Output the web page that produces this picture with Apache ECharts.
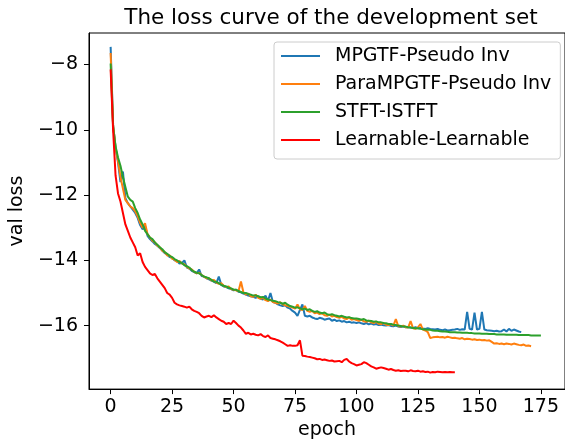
<!DOCTYPE html>
<html>
<head>
    <meta charset="UTF-8">
    <title>The loss curve of the development set</title>
    <script src="https://cdn.jsdelivr.net/npm/echarts@6/dist/echarts.min.js"></script>
    <style type="text/css">
        body { margin: 0; background: #fff; }
        #main { width: 565px; height: 445px; }
    </style>
</head>
<body>
<div id="main"></div>
<script type="text/javascript">
    // series names, in legend order
    var names = ['MPGTF-Pseudo Inv', 'ParaMPGTF-Pseudo Inv', 'STFT-ISTFT', 'Learnable-Learnable'];
    var xTicks = [0, 25, 50, 75, 100, 125, 150, 175];
    var yTicks = [-16, -14, -12, -10, -8];

    // val loss per epoch (index = epoch)
    var mpgtf = [
        -7.46, -9.85, -10.55, -11.00, -11.60, -11.28, -12.10, -12.25, -12.35, -12.45,
        -12.55, -12.70, -12.92, -13.05, -12.95, -13.25, -13.35, -13.42, -13.50, -13.55,
        -13.62, -13.70, -13.78, -13.82, -13.90, -13.92, -14.00, -14.02, -14.10, -14.08,
        -14.00, -14.22, -14.25, -14.32, -14.36, -14.40, -14.28, -14.48, -14.50, -14.55,
        -14.58, -14.62, -14.65, -14.70, -14.50, -14.75, -14.80, -14.82, -14.86, -14.88,
        -14.92, -14.90, -14.96, -14.98, -15.02, -15.05, -15.08, -15.10, -15.12, -15.15,
        -15.10, -15.18, -15.20, -15.08, -15.24, -15.00, -15.28, -15.30, -15.35, -15.38,
        -15.40, -15.38, -15.45, -15.48, -15.55, -15.60, -15.70, -15.52, -15.35, -15.70,
        -15.72, -15.70, -15.75, -15.78, -15.80, -15.76, -15.78, -15.82, -15.80, -15.78,
        -15.85, -15.82, -15.86, -15.84, -15.88, -15.86, -15.90, -15.88, -15.91, -15.90,
        -15.92, -15.90, -15.93, -15.95, -15.92, -15.96, -15.94, -15.97, -15.95, -15.98,
        -15.97, -15.99, -16.00, -15.98, -16.01, -16.02, -16.00, -16.03, -16.04, -16.02,
        -16.05, -16.04, -16.06, -16.07, -16.05, -16.08, -16.07, -16.09, -16.10, -16.08,
        -16.10, -16.11, -16.12, -16.10, -16.13, -16.14, -16.12, -16.15, -16.14, -16.13,
        -16.12, -16.10, -16.13, -16.11, -16.12, -15.58, -16.10, -16.12, -15.60, -16.12,
        -16.10, -15.58, -16.12, -16.14, -16.15, -16.16, -16.17, -16.16, -16.18, -16.17,
        -16.12, -16.18, -16.10, -16.16, -16.12, -16.15, -16.18, -16.20
    ];
    var paraMpgtf = [
        -7.65, -9.85, -10.55, -10.95, -11.45, -11.80, -12.15, -12.25, -12.35, -12.40,
        -12.50, -12.65, -12.85, -13.00, -12.86, -13.20, -13.30, -13.40, -13.45, -13.55,
        -13.60, -13.70, -13.75, -13.85, -13.85, -13.95, -13.98, -14.05, -14.02, -14.10,
        -14.12, -14.20, -14.25, -14.28, -14.35, -14.40, -14.38, -14.45, -14.50, -14.55,
        -14.55, -14.62, -14.60, -14.68, -14.72, -14.70, -14.78, -14.82, -14.80, -14.88,
        -14.90, -14.92, -14.95, -14.65, -14.98, -15.05, -15.02, -15.10, -15.12, -15.05,
        -15.15, -15.18, -15.15, -15.22, -15.25, -15.20, -15.28, -15.30, -15.32, -15.28,
        -15.35, -15.38, -15.40, -15.42, -15.45, -15.48, -15.35, -15.50, -15.52, -15.40,
        -15.55, -15.58, -15.55, -15.62, -15.60, -15.65, -15.62, -15.68, -15.70, -15.66,
        -15.72, -15.70, -15.74, -15.76, -15.73, -15.78, -15.80, -15.75, -15.82, -15.80,
        -15.83, -15.85, -15.82, -15.87, -15.88, -15.85, -15.90, -15.92, -15.88, -15.94,
        -15.95, -15.92, -15.97, -15.98, -15.95, -16.00, -15.80, -16.02, -16.03, -16.00,
        -16.05, -16.06, -15.86, -16.08, -16.10, -16.05, -15.95, -16.12, -16.15, -16.20,
        -16.38, -16.36, -16.35, -16.34, -16.36, -16.35, -16.37, -16.34, -16.36, -16.38,
        -16.37, -16.39, -16.40, -16.38, -16.42, -16.40, -16.41, -16.43, -16.42, -16.44,
        -16.43, -16.45, -16.44, -16.46, -16.45, -16.50, -16.55, -16.54, -16.56, -16.55,
        -16.57, -16.55, -16.56, -16.58, -16.55, -16.57, -16.59, -16.60, -16.58, -16.62,
        -16.61, -16.63
    ];
    var stft = [
        -7.97, -9.90, -10.50, -10.85, -11.10, -11.45, -11.75, -12.05, -12.15, -12.20,
        -12.40, -12.55, -12.75, -12.90, -13.10, -13.20, -13.30, -13.35, -13.45, -13.52,
        -13.60, -13.66, -13.75, -13.80, -13.86, -13.90, -13.96, -14.00, -14.05, -14.08,
        -14.15, -14.18, -14.22, -14.30, -14.35, -14.38, -14.40, -14.45, -14.50, -14.52,
        -14.55, -14.60, -14.65, -14.66, -14.70, -14.75, -14.78, -14.80, -14.84, -14.86,
        -14.90, -14.90, -14.94, -14.97, -15.00, -15.00, -15.03, -15.05, -15.08, -15.08,
        -15.10, -15.13, -15.12, -15.17, -15.20, -15.22, -15.24, -15.25, -15.28, -15.30,
        -15.33, -15.30, -15.36, -15.40, -15.42, -15.45, -15.44, -15.47, -15.50, -15.48,
        -15.52, -15.50, -15.55, -15.58, -15.56, -15.60, -15.62, -15.60, -15.65, -15.67,
        -15.65, -15.68, -15.70, -15.72, -15.70, -15.73, -15.75, -15.74, -15.77, -15.78,
        -15.78, -15.80, -15.82, -15.80, -15.84, -15.85, -15.86, -15.88, -15.87, -15.90,
        -15.90, -15.92, -15.93, -15.95, -15.95, -15.97, -15.98, -16.00, -16.01, -16.03,
        -16.03, -16.05, -16.06, -16.07, -16.08, -16.08, -16.10, -16.11, -16.12, -16.13,
        -16.13, -16.15, -16.16, -16.16, -16.17, -16.18, -16.18, -16.19, -16.20, -16.20,
        -16.20, -16.21, -16.21, -16.22, -16.22, -16.22, -16.23, -16.23, -16.24, -16.24,
        -16.24, -16.25, -16.25, -16.25, -16.26, -16.26, -16.26, -16.27, -16.27, -16.27,
        -16.27, -16.28, -16.28, -16.28, -16.28, -16.28, -16.29, -16.29, -16.29, -16.29,
        -16.29, -16.30, -16.30, -16.30, -16.30, -16.30
    ];
    var learnable = [
        -8.15, -10.00, -11.40, -11.95, -12.20, -12.55, -12.90, -13.10, -13.30, -13.45,
        -13.60, -13.85, -13.78, -14.05, -14.20, -14.30, -14.40, -14.45, -14.42, -14.55,
        -14.65, -14.75, -14.85, -15.00, -15.05, -15.15, -15.30, -15.35, -15.38, -15.40,
        -15.42, -15.45, -15.42, -15.50, -15.55, -15.58, -15.62, -15.70, -15.75, -15.72,
        -15.70, -15.74, -15.68, -15.75, -15.80, -15.85, -15.88, -15.95, -15.92, -15.95,
        -15.85, -15.92, -16.00, -16.06, -16.15, -16.25, -16.22, -16.27, -16.25, -16.28,
        -16.30, -16.26, -16.32, -16.35, -16.30, -16.38, -16.40, -16.42, -16.45, -16.48,
        -16.52, -16.57, -16.62, -16.60, -16.62, -16.62, -16.60, -16.45, -16.92, -16.93,
        -16.95, -16.96, -16.98, -17.00, -17.03, -17.02, -17.05, -17.04, -17.06, -17.08,
        -17.07, -17.10, -17.09, -17.08, -17.12, -17.05, -17.02, -17.10, -17.15, -17.18,
        -17.22, -17.20, -17.18, -17.12, -17.15, -17.20, -17.25, -17.28, -17.32, -17.30,
        -17.28, -17.30, -17.32, -17.35, -17.33, -17.36, -17.38, -17.37, -17.39, -17.38,
        -17.38, -17.40, -17.37, -17.39, -17.40, -17.38, -17.41, -17.40, -17.42, -17.41,
        -17.44, -17.42, -17.43, -17.41, -17.42, -17.43, -17.42, -17.43, -17.42, -17.43,
        -17.43
    ];
    var colors = ['#1f77b4', '#ff7f0e', '#2ca02c', '#ff0000'];

    function toPoints(arr) {
        return arr.map(function (v, i) { return [i, v]; });
    }
    function minusFmt(v) {
        return v < 0 ? '\u2212' + Math.abs(v) : String(v);
    }

    var font = 'DejaVu Sans';
    var myChart = echarts.init(document.getElementById('main'));
    var allData = [mpgtf, paraMpgtf, stft, learnable];
    var series = [];
    for (var i = 0; i < names.length; i++) {
        series.push({
            name: names[i],
            type: 'line',
            data: toPoints(allData[i]),
            showSymbol: false,
            symbol: 'none',
            lineStyle: { color: colors[i], width: 2 },
            itemStyle: { color: colors[i] },
            z: 2 + i
        });
    }

    var option = {
        animation: false,
        backgroundColor: '#fff',
        title: {
            text: 'The loss curve of the development set',
            left: 326,
            textAlign: 'center',
            top: 2,
            textStyle: { fontFamily: font, fontSize: 21.5, fontWeight: 'normal', color: '#000' }
        },
        legend: {
            data: names,
            orient: 'vertical',
            left: 274,
            top: 42,
            padding: [4, 9, 9, 7],
            itemGap: 8,
            itemWidth: 39,
            itemHeight: 2,
            icon: 'rect',
            borderColor: '#cccccc',
            borderWidth: 1,
            borderRadius: 3,
            backgroundColor: 'rgba(255,255,255,0.8)',
            textStyle: { fontFamily: font, fontSize: 19, color: '#000', lineHeight: 20, padding: [0, 0, 0, 10] }
        },
        grid: {
            left: 86,
            top: 33,
            width: 480,
            height: 357,
            show: true,
            borderColor: '#000',
            borderWidth: 1
        },
        xAxis: {
            type: 'value',
            min: -8.8,
            max: 184.8,
            name: 'epoch',
            nameLocation: 'middle',
            nameGap: 28,
            nameTextStyle: { fontFamily: font, fontSize: 19, color: '#000' },
            splitLine: { show: false },
            axisLine: { show: true, onZero: false, lineStyle: { color: '#000', width: 1 } },
            axisTick: { show: true, customValues: xTicks, length: 5, lineStyle: { color: '#000' } },
            axisLabel: { customValues: xTicks, margin: 8, fontFamily: font, fontSize: 19, color: '#000' }
        },
        yAxis: {
            type: 'value',
            min: -17.945,
            max: -7.035,
            name: 'val loss',
            nameLocation: 'middle',
            nameGap: 54,
            nameTextStyle: { fontFamily: font, fontSize: 19, color: '#000' },
            splitLine: { show: false },
            axisLine: { show: true, onZero: false, lineStyle: { color: '#000', width: 1 } },
            axisTick: { show: true, customValues: yTicks, length: 5, lineStyle: { color: '#000' } },
            axisLabel: { customValues: yTicks, margin: 11, fontFamily: font, fontSize: 19, color: '#000', formatter: minusFmt }
        },
        series: series
    };
    myChart.setOption(option);
</script>
</body>
</html>
